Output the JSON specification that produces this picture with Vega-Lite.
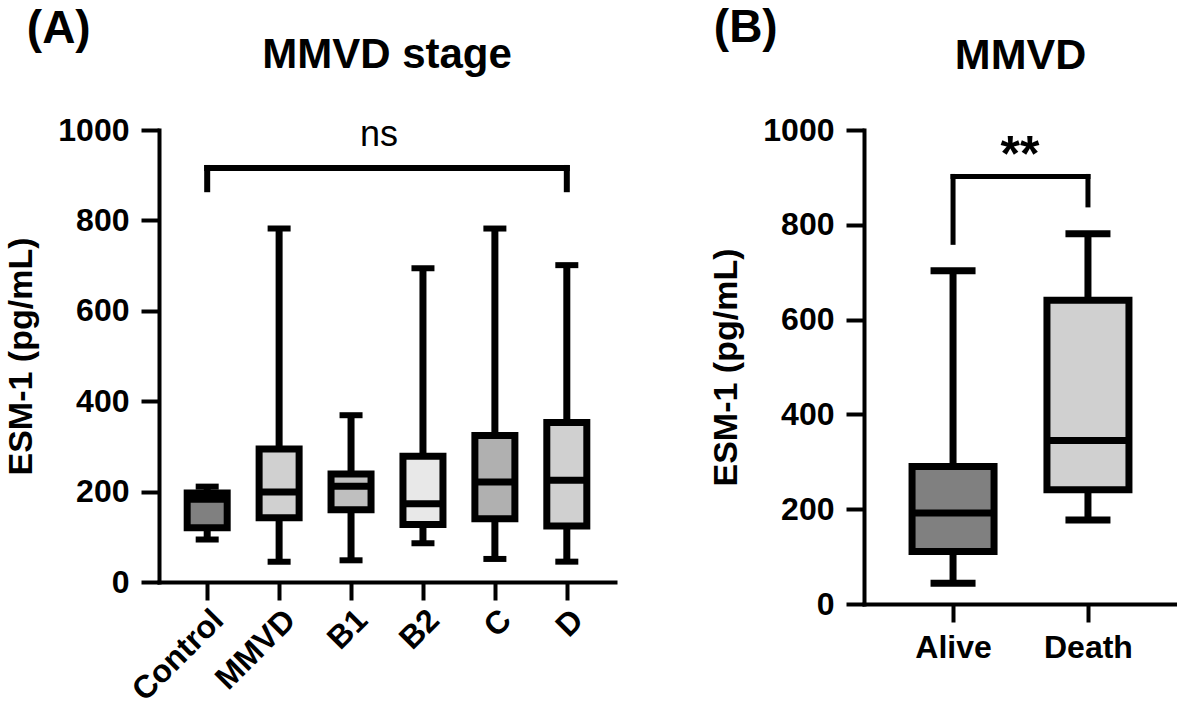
{
  "$schema": "https://vega.github.io/schema/vega-lite/v6.json",
  "background": "white",
  "padding": {"left": 4, "top": 5, "right": 0, "bottom": 0},
  "datasets": {
    "stage": [
      {"group": "Control", "min": 94, "q1": 120, "median": 183, "q3": 197, "max": 211},
      {"group": "MMVD", "min": 45, "q1": 142, "median": 199, "q3": 294, "max": 782},
      {"group": "B1", "min": 48, "q1": 160, "median": 212, "q3": 239, "max": 369},
      {"group": "B2", "min": 86, "q1": 127, "median": 173, "q3": 278, "max": 694},
      {"group": "C", "min": 51, "q1": 140, "median": 221, "q3": 324, "max": 782},
      {"group": "D", "min": 45, "q1": 124, "median": 225, "q3": 353, "max": 701}
    ],
    "outcome": [
      {"status": "Alive", "min": 44, "q1": 111, "median": 192, "q3": 290, "max": 703},
      {"status": "Death", "min": 177, "q1": 241, "median": 345, "q3": 641, "max": 781}
    ],
    "bracketA": [{"from": "Control", "to": "D", "y": 916}],
    "legsA": [{"at": "Control", "y1": 869, "y2": 916}, {"at": "D", "y1": 869, "y2": 916}],
    "labelA": [{"at": "B1", "y": 965, "label": "ns"}],
    "bracketB": [{"from": "Alive", "to": "Death", "y": 902}],
    "legsB": [{"at": "Alive", "y1": 763, "y2": 902}, {"at": "Death", "y1": 842, "y2": 902}],
    "labelB": [{"at": "Alive", "y": 913, "label": "**"}]
  },
  "config": {
    "font": "Liberation Sans",
    "view": {"stroke": null},
    "axis": {
      "grid": false,
      "domainColor": "black",
      "domainWidth": 4,
      "domainCap": "square",
      "tickColor": "black",
      "tickWidth": 4,
      "tickSize": 18,
      "labelFont": "Liberation Sans",
      "labelFontWeight": "bold",
      "labelFontSize": 32,
      "labelColor": "black",
      "labelPadding": 12,
      "titleFont": "Liberation Sans",
      "titleFontWeight": "bold",
      "titleFontSize": 34,
      "titleColor": "black"
    },
    "title": {"font": "Liberation Sans", "fontWeight": "bold", "color": "black"}
  },
  "spacing": 94,
  "resolve": {"scale": {"x": "independent", "y": "independent", "fill": "independent"}},
  "hconcat": [
    {
      "title": {"text": "(A)", "anchor": "start", "fontSize": 46, "offset": -19, "dx": 22},
      "hconcat": [
        {
          "width": 456,
          "height": 452,
          "title": {"text": "MMVD stage", "anchor": "middle", "fontSize": 42, "offset": 37},
          "encoding": {
            "x": {"field": "group", "type": "nominal",
                  "scale": {"type": "point", "padding": 0.67, "domain": ["Control", "MMVD", "B1", "B2", "C", "D"]},
                  "axis": {"title": null, "labelAngle": -45, "labelAlign": "right", "labelBaseline": "top", "labelPadding": 4}}
          },
          "layer": [
            {
              "data": {"name": "stage"},
              "mark": {"type": "rule", "color": "black", "strokeWidth": 7},
              "encoding": {
                "y": {"field": "min", "type": "quantitative", "scale": {"domain": [0, 1000], "nice": false},
                      "axis": {"title": "ESM-1 (pg/mL)", "values": [0, 200, 400, 600, 800, 1000], "format": "d", "titlePadding": 19}},
                "y2": {"field": "max"}
              }
            },
            {
              "data": {"name": "stage"},
              "mark": {"type": "bar", "stroke": "black", "strokeWidth": 7, "size": 40},
              "encoding": {
                "y": {"field": "q1", "type": "quantitative"},
                "y2": {"field": "q3"},
                "fill": {"field": "group", "type": "nominal", "legend": null,
                         "scale": {"domain": ["Control", "MMVD", "B1", "B2", "C", "D"],
                                   "range": ["#808080", "#d0d0d0", "#bfbfbf", "#e8e8e8", "#b0b0b0", "#d0d0d0"]}}
              }
            },
            {
              "data": {"name": "stage"},
              "mark": {"type": "tick", "color": "black", "size": 40, "thickness": 7, "opacity": 1},
              "encoding": {"y": {"field": "median", "type": "quantitative"}}
            },
            {
              "data": {"name": "stage"},
              "mark": {"type": "tick", "color": "black", "size": 23, "thickness": 6, "opacity": 1},
              "encoding": {"y": {"field": "min", "type": "quantitative"}}
            },
            {
              "data": {"name": "stage"},
              "mark": {"type": "tick", "color": "black", "size": 23, "thickness": 6, "opacity": 1},
              "encoding": {"y": {"field": "max", "type": "quantitative"}}
            },
            {
              "data": {"name": "bracketA"},
              "mark": {"type": "rule", "color": "black", "strokeWidth": 6, "strokeCap": "square"},
              "encoding": {
                "x": {"field": "from", "type": "nominal"},
                "x2": {"field": "to"},
                "y": {"field": "y", "type": "quantitative"}
              }
            },
            {
              "data": {"name": "legsA"},
              "mark": {"type": "rule", "color": "black", "strokeWidth": 6, "strokeCap": "square"},
              "encoding": {
                "x": {"field": "at", "type": "nominal"},
                "y": {"field": "y1", "type": "quantitative"},
                "y2": {"field": "y2"}
              }
            },
            {
              "data": {"name": "labelA"},
              "mark": {"type": "text", "fontSize": 36, "fontWeight": "normal", "color": "black", "dx": 28, "baseline": "alphabetic", "align": "center"},
              "encoding": {
                "x": {"field": "at", "type": "nominal"},
                "y": {"field": "y", "type": "quantitative"},
                "text": {"field": "label"}
              }
            }
          ]
        }
      ]
    },
    {
      "title": {"text": "(B)", "anchor": "start", "fontSize": 46, "offset": -17, "dx": 4},
      "hconcat": [
        {
          "width": 313,
          "height": 474,
          "title": {"text": "MMVD", "anchor": "middle", "fontSize": 43, "offset": 36},
          "encoding": {
            "x": {"field": "status", "type": "nominal",
                  "scale": {"type": "point", "padding": 0.66, "domain": ["Alive", "Death"]},
                  "axis": {"title": null, "labelAngle": 0, "labelPadding": 10}}
          },
          "layer": [
            {
              "data": {"name": "outcome"},
              "mark": {"type": "rule", "color": "black", "strokeWidth": 7},
              "encoding": {
                "y": {"field": "min", "type": "quantitative", "scale": {"domain": [0, 1000], "nice": false},
                      "axis": {"title": "ESM-1 (pg/mL)", "values": [0, 200, 400, 600, 800, 1000], "format": "d", "titlePadding": 19}},
                "y2": {"field": "max"}
              }
            },
            {
              "data": {"name": "outcome"},
              "mark": {"type": "bar", "stroke": "black", "strokeWidth": 7, "size": 82},
              "encoding": {
                "y": {"field": "q1", "type": "quantitative"},
                "y2": {"field": "q3"},
                "fill": {"field": "status", "type": "nominal", "legend": null,
                         "scale": {"domain": ["Alive", "Death"], "range": ["#808080", "#d0d0d0"]}}
              }
            },
            {
              "data": {"name": "outcome"},
              "mark": {"type": "tick", "color": "black", "size": 82, "thickness": 7, "opacity": 1},
              "encoding": {"y": {"field": "median", "type": "quantitative"}}
            },
            {
              "data": {"name": "outcome"},
              "mark": {"type": "tick", "color": "black", "size": 45, "thickness": 7, "opacity": 1},
              "encoding": {"y": {"field": "min", "type": "quantitative"}}
            },
            {
              "data": {"name": "outcome"},
              "mark": {"type": "tick", "color": "black", "size": 45, "thickness": 7, "opacity": 1},
              "encoding": {"y": {"field": "max", "type": "quantitative"}}
            },
            {
              "data": {"name": "bracketB"},
              "mark": {"type": "rule", "color": "black", "strokeWidth": 5, "strokeCap": "square"},
              "encoding": {
                "x": {"field": "from", "type": "nominal"},
                "x2": {"field": "to"},
                "y": {"field": "y", "type": "quantitative"}
              }
            },
            {
              "data": {"name": "legsB"},
              "mark": {"type": "rule", "color": "black", "strokeWidth": 5, "strokeCap": "square"},
              "encoding": {
                "x": {"field": "at", "type": "nominal"},
                "y": {"field": "y1", "type": "quantitative"},
                "y2": {"field": "y2"}
              }
            },
            {
              "data": {"name": "labelB"},
              "mark": {"type": "text", "fontSize": 50, "fontWeight": "bold", "color": "black", "dx": 67, "baseline": "alphabetic", "align": "center"},
              "encoding": {
                "x": {"field": "at", "type": "nominal"},
                "y": {"field": "y", "type": "quantitative"},
                "text": {"field": "label"}
              }
            }
          ]
        }
      ]
    }
  ]
}
